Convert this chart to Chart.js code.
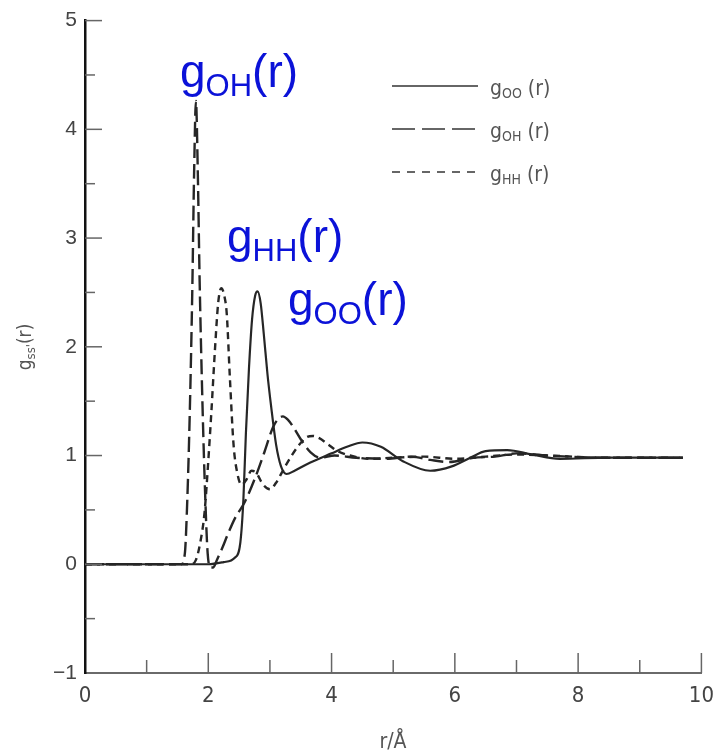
<!DOCTYPE html>
<html>
<head>
<meta charset="utf-8">
<script src="https://cdn.jsdelivr.net/npm/chart.js@4.4.1/dist/chart.umd.min.js"></script>
<style>
  body { margin: 0; background: #fff; }
  #wrap { width: 724px; height: 754px; }
</style>
</head>
<body>
<div id="wrap"><canvas id="rdf" width="724" height="754"></canvas></div>
<script>
// radial distribution functions
const rOO = [0, 2.0, 2.25, 2.43, 2.52, 2.57, 2.61, 2.66, 2.71, 2.76, 2.8, 2.85, 2.9, 2.96, 3.02, 3.1, 3.18, 3.27, 3.4, 3.6, 4.0, 4.25, 4.5, 4.8, 5.15, 5.6, 5.95, 6.25, 6.5, 6.85, 7.25, 7.7, 8.5, 9.7];
const gOO = [0, 0, 0.02, 0.06, 0.2, 0.6, 1.2, 1.8, 2.25, 2.47, 2.51, 2.4, 2.12, 1.75, 1.45, 1.1, 0.9, 0.83, 0.86, 0.92, 1.02, 1.08, 1.12, 1.08, 0.95, 0.86, 0.9, 0.98, 1.04, 1.05, 1.01, 0.97, 0.98, 0.98];

const rOH = [0, 1.56, 1.62, 1.66, 1.70, 1.74, 1.77, 1.80, 1.83, 1.86, 1.90, 1.94, 1.99, 2.04, 2.08, 2.14, 2.22, 2.32, 2.43, 2.59, 2.75, 2.91, 3.05, 3.14, 3.21, 3.29, 3.37, 3.5, 3.66, 3.82, 4.05, 4.4, 4.85, 5.3, 5.6, 5.9, 6.3, 6.65, 7.0, 7.5, 8.5, 9.7];
const gOH = [0, 0, 0.1, 0.6, 1.4, 2.5, 3.6, 4.26, 3.6, 2.6, 1.6, 0.8, 0.1, -0.03, -0.03, 0.04, 0.14, 0.28, 0.42, 0.57, 0.78, 1.03, 1.26, 1.34, 1.36, 1.33, 1.27, 1.15, 1.03, 0.98, 1.0, 0.98, 0.97, 0.99, 0.96, 0.94, 0.98, 0.99, 1.02, 1.0, 0.98, 0.98];

const rHH = [0, 1.72, 1.8, 1.87, 1.94, 2.0, 2.05, 2.11, 2.16, 2.21, 2.26, 2.3, 2.35, 2.41, 2.47, 2.54, 2.62, 2.7, 2.78, 2.88, 3.0, 3.1, 3.2, 3.3, 3.45, 3.6, 3.7, 3.8, 3.95, 4.1, 4.3, 4.6, 5.0, 5.5, 6.0, 6.5, 7.0, 7.5, 8.5, 9.7];
const gHH = [0, 0, 0.04, 0.2, 0.48, 0.95, 1.4, 1.99, 2.4, 2.54, 2.47, 2.3, 1.72, 1.1, 0.84, 0.73, 0.78, 0.86, 0.84, 0.74, 0.69, 0.75, 0.85, 0.95, 1.08, 1.17, 1.18, 1.16, 1.1, 1.04, 1.0, 0.97, 0.98, 0.99, 0.97, 0.99, 1.01, 1.0, 0.98, 0.98];

const xTicks = [0, 2, 4, 6, 8, 10];
const yTicks = [-1, 0, 1, 2, 3, 4, 5];

// legend rows and the blue peak labels: [main, subscript, tail]
const legendRows = [['g', 'OO', ' (r)'], ['g', 'OH', ' (r)'], ['g', 'HH', ' (r)']];
const legendDash = [[], [23, 7], [8, 7]];
const peakLabels = [['g', 'OH', '(r)'], ['g', 'HH', '(r)'], ['g', 'OO', '(r)']];
const peakAt = [[180, 87], [227, 252], [288, 315]];

function pts(xs, ys) { return xs.map((x, i) => ({ x: x, y: ys[i] })); }

const lineCol = '#262626';
const greyTxt = '#555';
const narrow = "'DejaVu Sans Condensed', 'Liberation Sans', Arial, sans-serif";
const sans = "'Liberation Sans', Arial, sans-serif";

// draws  g_sub tail  starting at x, baseline y
function subText(ctx, parts, x, y, big, small, drop, font) {
  ctx.font = big + 'px ' + font;
  ctx.fillText(parts[0], x, y);
  x += ctx.measureText(parts[0]).width;
  ctx.font = small + 'px ' + font;
  ctx.fillText(parts[1], x, y + drop);
  x += ctx.measureText(parts[1]).width;
  ctx.font = big + 'px ' + font;
  ctx.fillText(parts[2], x, y);
}

const extras = {
  id: 'extras',
  afterDraw(chart) {
    const ctx = chart.ctx;
    const xs = chart.scales.x, ys = chart.scales.y;
    const left = chart.chartArea.left, bottom = chart.chartArea.bottom;
    ctx.save();

    // inward tick marks
    ctx.strokeStyle = '#666';
    ctx.lineWidth = 1.5;
    for (let v = 1; v <= 10; v++) {
      const px = xs.getPixelForValue(v);
      const len = v % 2 === 0 ? 20 : 13;
      ctx.beginPath(); ctx.moveTo(px, bottom); ctx.lineTo(px, bottom - len); ctx.stroke();
    }
    for (let v = -0.5; v <= 5; v += 0.5) {
      const py = ys.getPixelForValue(v);
      const len = Number.isInteger(v) ? 17 : 10;
      ctx.beginPath(); ctx.moveTo(left, py); ctx.lineTo(left + len, py); ctx.stroke();
    }

    // legend
    ctx.fillStyle = greyTxt;
    ctx.strokeStyle = '#666';
    ctx.lineWidth = 2;
    legendRows.forEach((row, i) => {
      const ly = 86 + i * 43;
      ctx.setLineDash(legendDash[i]);
      ctx.beginPath(); ctx.moveTo(392, ly); ctx.lineTo(478, ly); ctx.stroke();
      ctx.setLineDash([]);
      subText(ctx, row, 490, ly + 9, 21, 14, 3, narrow);
    });

    // peak labels
    ctx.fillStyle = '#0b12d8';
    peakLabels.forEach((lab, i) => {
      subText(ctx, lab, peakAt[i][0], peakAt[i][1], 46, 31, 9, sans);
    });

    // axis titles
    ctx.fillStyle = greyTxt;
    ctx.save();
    ctx.translate(31, 347);
    ctx.rotate(-Math.PI / 2);
    ctx.textAlign = 'left';
    ctx.font = "19px " + narrow;
    const w = ctx.measureText('g').width + ctx.measureText('(r)').width;
    ctx.font = "13px " + narrow;
    const w2 = ctx.measureText("ss'").width;
    subText(ctx, ['g', "ss'", '(r)'], -(w + w2) / 2, 0, 19, 13, 4, narrow);
    ctx.restore();

    ctx.font = "21px " + narrow;
    ctx.textAlign = 'center';
    ctx.fillText('r/\u00c5', 393, 748);

    ctx.restore();
  }
};

new Chart(document.getElementById('rdf'), {
  type: 'scatter',
  data: {
    datasets: [
      { label: 'gOO(r)', data: pts(rOO, gOO), borderColor: lineCol, borderWidth: 2.2 },
      { label: 'gOH(r)', data: pts(rOH, gOH), borderColor: lineCol, borderWidth: 2.4, borderDash: [15, 6] },
      { label: 'gHH(r)', data: pts(rHH, gHH), borderColor: lineCol, borderWidth: 2.4, borderDash: [7, 5] }
    ]
  },
  options: {
    responsive: false,
    animation: false,
    showLine: true,
    elements: {
      point: { radius: 0 },
      line: { cubicInterpolationMode: 'monotone', fill: false }
    },
    layout: { padding: { top: 18, right: 0, left: 0, bottom: 0 } },
    plugins: { legend: { display: false }, tooltip: { enabled: false } },
    scales: {
      x: {
        type: 'linear', min: 0, max: 10,
        grid: { display: false, drawTicks: false },
        border: { display: true, color: '#6a6a6a', width: 2 },
        afterBuildTicks: s => { s.ticks = xTicks.map(v => ({ value: v })); },
        ticks: { color: '#444', font: { family: narrow, size: 22 }, padding: 10, maxRotation: 0 },
        afterFit: s => { s.height = 81; }
      },
      y: {
        type: 'linear', min: -1, max: 5,
        grid: { display: false, drawTicks: false },
        border: { display: true, color: '#111', width: 2.5 },
        afterBuildTicks: s => { s.ticks = yTicks.map(v => ({ value: v })); },
        ticks: {
          color: '#444', font: { family: sans, size: 21 }, padding: 8,
          callback: v => (v < 0 ? '\u2212' + Math.abs(v) : String(v))
        },
        afterFit: s => { s.width = 85; }
      }
    }
  },
  plugins: [extras]
});
</script>
</body>
</html>
